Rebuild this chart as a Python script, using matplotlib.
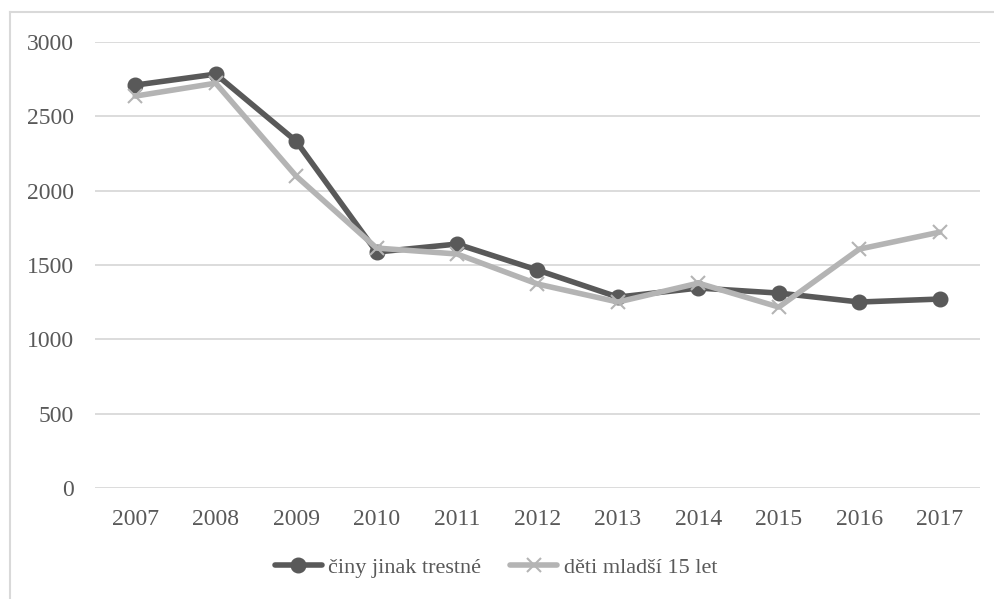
import matplotlib
matplotlib.use('Agg')
import matplotlib.pyplot as plt
from matplotlib.lines import Line2D

years = ['2007', '2008', '2009', '2010', '2011', '2012', '2013', '2014', '2015', '2016', '2017']
ciny = [2710, 2784, 2333, 1587, 1641, 1466, 1284, 1345, 1311, 1251, 1271]
deti = [2636, 2723, 2098, 1614, 1574, 1372, 1251, 1378, 1217, 1607, 1721]
labels = ['činy jinak trestné', 'děti mladší 15 let']
yticks = [0, 500, 1000, 1500, 2000, 2500, 3000]

DARK = '#595959'
LIGHT = '#b4b4b4'
TEXT = '#595959'
GRID = '#d9d9d9'

plt.rcParams['font.family'] = ['Liberation Serif', 'DejaVu Serif']

fig = plt.figure(figsize=(9.95, 5.99), dpi=100)
ax = fig.add_axes([95/995, 1 - 488/599, (980-95)/995, (488-42)/599])

x = range(len(years))
ax.plot(x, ciny, color=DARK, lw=4, marker='o', ms=10.5, solid_capstyle='round', label=labels[0], zorder=3)
ax.plot(x, deti, color=LIGHT, lw=4, marker='x', ms=10, mew=1.5, solid_capstyle='round', label=labels[1], zorder=4)

ax.set_xlim(-0.5, len(years) - 0.5)
ax.set_ylim(0, 3000)
ax.set_xticks(list(x))
ax.set_xticklabels(years)
ax.set_yticks(yticks)
ax.set_yticklabels([str(v) for v in yticks])
ax.tick_params(axis='both', length=0, labelsize=17, colors=TEXT)
ax.tick_params(axis='x', pad=15)
ax.tick_params(axis='y', pad=15)
ax.yaxis.grid(True, color=GRID, lw=1.3)
ax.set_axisbelow(True)
for s in ax.spines.values():
    s.set_visible(False)

leg = fig.legend(loc='center', bbox_to_anchor=(496/995, 1 - 568/599), ncol=2, frameon=False,
                 fontsize=16, handlelength=2.1, handletextpad=0.3, columnspacing=1.3,
                 labelcolor=TEXT)

# figure border (left and top edges visible)
fig.add_artist(Line2D([9.5/995, 9.5/995], [0, 1 - 12/599], color=GRID, lw=1.5, transform=fig.transFigure))
fig.add_artist(Line2D([9.5/995, 1], [1 - 12/599, 1 - 12/599], color=GRID, lw=1.5, transform=fig.transFigure))

fig.savefig('out.png', dpi=100)
